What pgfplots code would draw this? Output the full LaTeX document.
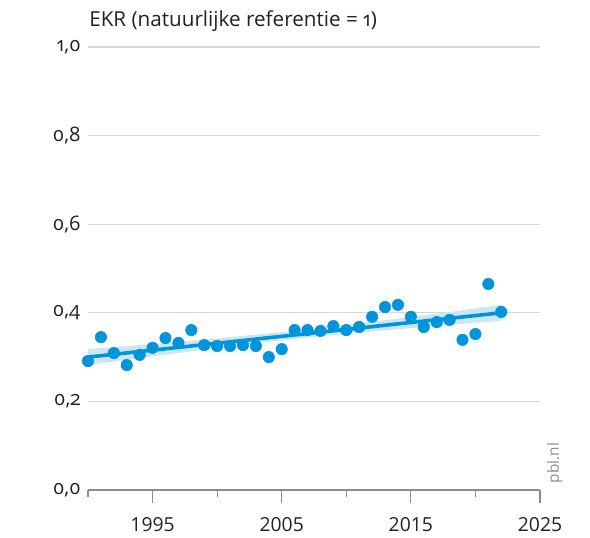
\documentclass[border=0pt]{standalone}
\usepackage{pgfplots}
\pgfplotsset{compat=1.18}
\usepackage{fontspec}
\setmainfont{Open Sans}
\newfontfamily\osf{Open Sans}[Numbers=OldStyle]
\definecolor{pblblue}{HTML}{0095DA}
\definecolor{bandblue}{HTML}{CCE6F6}
\definecolor{gridgray}{HTML}{D6D6D6}
\definecolor{axgray}{HTML}{8C8C8C}
\definecolor{txt}{HTML}{222222}
\begin{document}
\begin{tikzpicture}
\path[use as bounding box] (-66pt,-36pt) rectangle (376.5pt,367.5pt);
\begin{axis}[
  at={(0,0)}, anchor=south west,
  scale only axis, width=339pt, height=332.25pt,
  xmin=1990, xmax=2025, ymin=0, ymax=1,
  clip=false,
  separate axis lines,
  axis x line*=bottom, axis y line*=left,
  x axis line style={axgray, line width=0.9pt},
  y axis line style={draw=none},
  xtick={1995,2005,2015,2025},
  minor xtick={1990,2000,2010,2020},
  ytick={0,0.2,0.4,0.6,0.8,1},
  xtick align=outside,
  major tick length=9.75pt, minor tick length=5pt,
  tick style={axgray, line width=0.9pt},
  ytick style={draw=none},
  ymajorgrids, grid style={gridgray, line width=0.8pt},
  /pgf/number format/assume math mode=true,
  xticklabel style={font=\fontsize{14.5}{16}\selectfont, text=txt, yshift=-7pt,
    /pgf/number format/1000 sep={}},
  yticklabel style={font=\osf\fontsize{15}{17}\selectfont, text=txt, xshift=-2pt,
    /pgf/number format/.cd, use comma, fixed, fixed zerofill, precision=1},
]
% confidence band of the trend
\addplot[fill=bandblue, draw=none] coordinates {
 (1990,0.282) (1994,0.298) (1998,0.313) (2002,0.328) (2006,0.341)
 (2010,0.353) (2014,0.363) (2018,0.373) (2022,0.382)
 (2022,0.418) (2018,0.402) (2014,0.387) (2010,0.373) (2006,0.359)
 (2002,0.348) (1998,0.337) (1994,0.327) (1990,0.318)
} -- cycle;
% trend line
\addplot[pblblue, line width=2.7pt] coordinates {(1990,0.300) (2022,0.400)};
% observations
\addplot[only marks, mark=*, mark size=4.3pt, pblblue, mark options={draw=pblblue}] coordinates {
 (1990,0.291) (1991,0.345) (1992,0.309) (1993,0.282) (1994,0.305)
 (1995,0.321) (1996,0.343) (1997,0.332) (1998,0.361) (1999,0.327)
 (2000,0.325) (2001,0.325) (2002,0.327) (2003,0.325) (2004,0.300)
 (2005,0.318) (2006,0.361) (2007,0.361) (2008,0.359) (2009,0.370)
 (2010,0.361) (2011,0.368) (2012,0.391) (2013,0.413) (2014,0.418)
 (2015,0.391) (2016,0.368) (2017,0.379) (2018,0.384) (2019,0.339)
 (2020,0.352) (2021,0.465) (2022,0.402)
};
\node[anchor=base west, inner sep=0, text=txt, font=\osf\fontsize{15.5}{17}\selectfont]
  at (rel axis cs:0,1) [xshift=0.75pt, yshift=15pt] {EKR (natuurlijke referentie = 1)};
\node[xshift=11.25pt, yshift=5pt, rotate=90, anchor=west, inner sep=0, text=axgray,
  font=\fontsize{11.5}{14}\selectfont]
  at (rel axis cs:1,0) {pbl.nl};
\end{axis}
\end{tikzpicture}
\end{document}
